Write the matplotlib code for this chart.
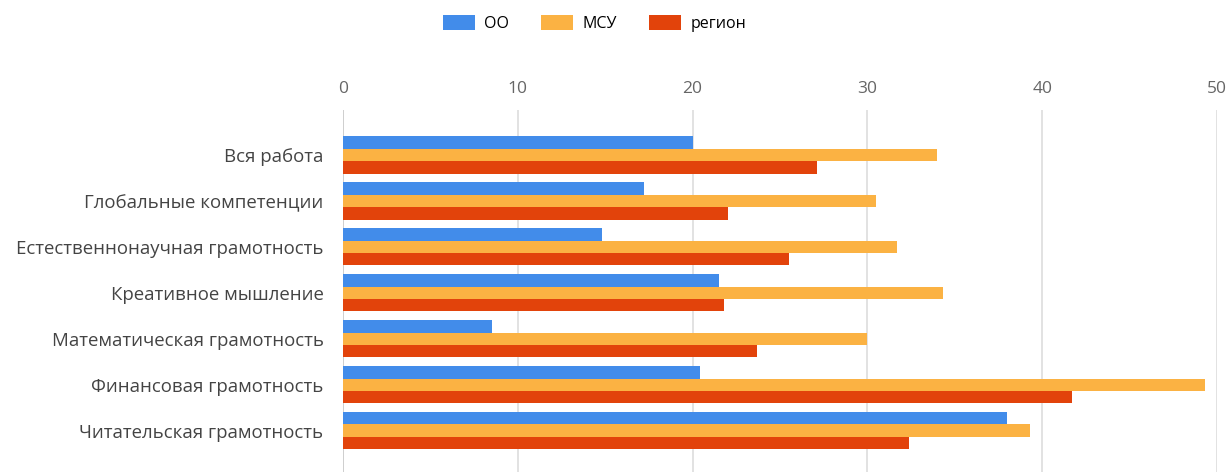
import numpy as np
import matplotlib.pyplot as plt
from matplotlib.patches import Patch

# ==========================================
# data
# ==========================================
categories = [
    "Вся работа",
    "Глобальные компетенции",
    "Естественнонаучная грамотность",
    "Креативное мышление",
    "Математическая грамотность",
    "Финансовая грамотность",
    "Читательская грамотность",
]
series_names = ["ОО", "МСУ", "регион"]
oo = [20.0, 17.2, 14.8, 21.5, 8.5, 20.4, 38.0]
msu = [34.0, 30.5, 31.7, 34.3, 30.0, 49.3, 39.3]
region = [27.1, 22.0, 25.5, 21.8, 23.7, 41.7, 32.4]
x_ticks = [0, 10, 20, 30, 40, 50]

colors = ["#428CEA", "#FBB243", "#E2430B"]

plt.rcParams['font.family'] = ['Open Sans', 'DejaVu Sans']

fig = plt.figure(figsize=(12.31, 4.72), dpi=100)
ax = fig.add_axes([0.2786, 0.0, 0.71, 0.767])

y = np.arange(len(categories))
h = 0.27
for i, vals in enumerate([oo, msu, region]):
    ax.barh(y + (i - 1) * h, vals, height=h, color=colors[i], zorder=3)

ax.set_xlim(0, 50)
ax.set_ylim(6.9, -0.98)
ax.set_xticks(x_ticks)
ax.xaxis.tick_top()
ax.tick_params(axis='x', length=0, pad=9, labelsize=12.5, labelcolor='#666666')
ax.set_yticks(y)
ax.set_yticklabels(categories)
ax.tick_params(axis='y', length=0, pad=14, labelsize=13.4, labelcolor='#444444')
ax.grid(axis='x', color='#dddddd', linewidth=1.2, zorder=0)
for s in ax.spines.values():
    s.set_visible(False)
ax.axvline(0, color='#cccccc', linewidth=1.2, zorder=2)

handles = [Patch(facecolor=c, label=n) for c, n in zip(colors, series_names)]
fig.legend(handles=handles, loc='center', bbox_to_anchor=(0.483, 0.951), ncol=3,
           frameon=False, fontsize=11.5, handlelength=2.0, handleheight=1.1,
           columnspacing=2.0, handletextpad=0.6)

plt.savefig("out.png", dpi=100)
